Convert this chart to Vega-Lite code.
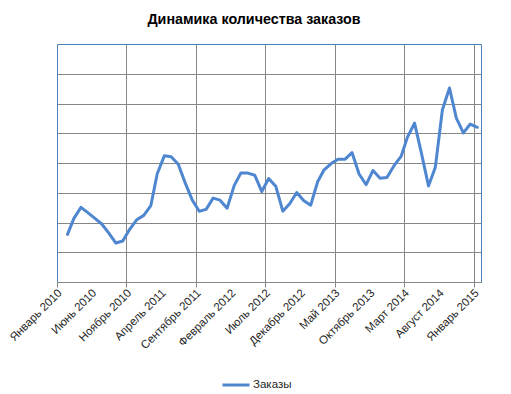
{
  "$schema": "https://vega.github.io/schema/vega-lite/v6.json",
  "autosize": "none",
  "width": 424,
  "height": 238,
  "padding": {"left": 57, "top": 44, "right": 30, "bottom": 112},
  "background": "white",
  "title": {
    "text": "Динамика количества заказов",
    "font": "Liberation Sans",
    "fontSize": 14.3,
    "fontWeight": "bold",
    "color": "#000000",
    "anchor": "middle",
    "dx": -15,
    "offset": 17
  },
  "config": {
    "view": {"stroke": "#4A7EBB", "strokeWidth": 1},
    "font": "Liberation Sans"
  },
  "data": {
    "values": [
      {"date": "2010-02-16", "orders": 1.60},
      {"date": "2010-03-16", "orders": 2.14},
      {"date": "2010-04-16", "orders": 2.51},
      {"date": "2010-05-16", "orders": 2.33},
      {"date": "2010-06-16", "orders": 2.14},
      {"date": "2010-07-16", "orders": 1.95},
      {"date": "2010-08-16", "orders": 1.64},
      {"date": "2010-09-16", "orders": 1.31},
      {"date": "2010-10-16", "orders": 1.38},
      {"date": "2010-11-16", "orders": 1.78},
      {"date": "2010-12-16", "orders": 2.09},
      {"date": "2011-01-16", "orders": 2.24},
      {"date": "2011-02-16", "orders": 2.57},
      {"date": "2011-03-16", "orders": 3.64},
      {"date": "2011-04-16", "orders": 4.24},
      {"date": "2011-05-16", "orders": 4.21},
      {"date": "2011-06-16", "orders": 3.96},
      {"date": "2011-07-16", "orders": 3.34},
      {"date": "2011-08-16", "orders": 2.76},
      {"date": "2011-09-16", "orders": 2.38},
      {"date": "2011-10-16", "orders": 2.44},
      {"date": "2011-11-16", "orders": 2.82},
      {"date": "2011-12-16", "orders": 2.75},
      {"date": "2012-01-16", "orders": 2.48},
      {"date": "2012-02-16", "orders": 3.24},
      {"date": "2012-03-16", "orders": 3.66},
      {"date": "2012-04-16", "orders": 3.66},
      {"date": "2012-05-16", "orders": 3.59},
      {"date": "2012-06-16", "orders": 3.04},
      {"date": "2012-07-16", "orders": 3.48},
      {"date": "2012-08-16", "orders": 3.22},
      {"date": "2012-09-16", "orders": 2.38},
      {"date": "2012-10-16", "orders": 2.63},
      {"date": "2012-11-16", "orders": 3.01},
      {"date": "2012-12-16", "orders": 2.74},
      {"date": "2013-01-16", "orders": 2.58},
      {"date": "2013-02-16", "orders": 3.38},
      {"date": "2013-03-16", "orders": 3.77},
      {"date": "2013-04-16", "orders": 3.98},
      {"date": "2013-05-16", "orders": 4.13},
      {"date": "2013-06-16", "orders": 4.13},
      {"date": "2013-07-16", "orders": 4.35},
      {"date": "2013-08-16", "orders": 3.63},
      {"date": "2013-09-16", "orders": 3.27},
      {"date": "2013-10-16", "orders": 3.75},
      {"date": "2013-11-16", "orders": 3.49},
      {"date": "2013-12-16", "orders": 3.51},
      {"date": "2014-01-16", "orders": 3.91},
      {"date": "2014-02-16", "orders": 4.22},
      {"date": "2014-03-16", "orders": 4.87},
      {"date": "2014-04-16", "orders": 5.34},
      {"date": "2014-05-16", "orders": 4.33},
      {"date": "2014-06-16", "orders": 3.23},
      {"date": "2014-07-16", "orders": 3.86},
      {"date": "2014-08-16", "orders": 5.79},
      {"date": "2014-09-16", "orders": 6.52},
      {"date": "2014-10-16", "orders": 5.51},
      {"date": "2014-11-16", "orders": 5.01},
      {"date": "2014-12-16", "orders": 5.31},
      {"date": "2015-01-16", "orders": 5.20}
    ]
  },
  "mark": {"type": "line", "strokeWidth": 3, "strokeJoin": "round", "strokeCap": "round"},
  "encoding": {
    "x": {
      "field": "date",
      "type": "temporal",
      "title": null,
      "scale": {
        "type": "utc",
        "domain": [
          {"year": 2010, "month": 1, "date": 1, "utc": true},
          {"year": 2015, "month": 2, "date": 1, "utc": true}
        ],
        "nice": false
      },
      "axis": {
        "values": [
          {"year": 2010, "month": 1, "date": 1, "utc": true},
          {"year": 2010, "month": 6, "date": 1, "utc": true},
          {"year": 2010, "month": 11, "date": 1, "utc": true},
          {"year": 2011, "month": 4, "date": 1, "utc": true},
          {"year": 2011, "month": 9, "date": 1, "utc": true},
          {"year": 2012, "month": 2, "date": 1, "utc": true},
          {"year": 2012, "month": 7, "date": 1, "utc": true},
          {"year": 2012, "month": 12, "date": 1, "utc": true},
          {"year": 2013, "month": 5, "date": 1, "utc": true},
          {"year": 2013, "month": 10, "date": 1, "utc": true},
          {"year": 2014, "month": 3, "date": 1, "utc": true},
          {"year": 2014, "month": 8, "date": 1, "utc": true},
          {"year": 2015, "month": 1, "date": 1, "utc": true}
        ],
        "labelExpr": "['Январь','Февраль','Март','Апрель','Май','Июнь','Июль','Август','Сентябрь','Октябрь','Ноябрь','Декабрь'][utcmonth(datum.value)] + ' ' + utcyear(datum.value)",
        "labelAngle": -45,
        "labelAlign": "right",
        "labelBaseline": "middle",
        "labelOffset": 3,
        "labelPadding": 4,
        "labelFontSize": 11.5,
        "labelColor": "#262626",
        "labelFont": "Liberation Sans",
        "labelOverlap": false,
        "labelFlush": false,
        "labelBound": false,
        "domainColor": "#868686",
        "domainWidth": 1,
        "grid": true,
        "gridColor": "#868686",
        "gridWidth": 1,
        "gridOpacity": {"condition": {"test": "((utcyear(datum.value)-2010)*12 + utcmonth(datum.value)) % 10 == 0 && ((utcyear(datum.value)-2010)*12 + utcmonth(datum.value)) > 0", "value": 1}, "value": 0},
        "ticks": true,
        "tickSize": 5,
        "tickColor": "#868686",
        "tickOpacity": {"condition": {"test": "((utcyear(datum.value)-2010)*12 + utcmonth(datum.value)) % 10 == 0", "value": 1}, "value": 0}
      }
    },
    "y": {
      "field": "orders",
      "type": "quantitative",
      "title": null,
      "scale": {"domain": [0, 8], "nice": false, "zero": true},
      "axis": {
        "values": [1, 2, 3, 4, 5, 6, 7],
        "labels": false,
        "ticks": false,
        "domain": false,
        "grid": true,
        "gridColor": "#868686",
        "gridWidth": 1
      }
    },
    "color": {
      "datum": "Заказы",
      "type": "nominal",
      "scale": {"range": ["#4F86D0"]},
      "legend": {
        "title": null,
        "orient": "none",
        "legendX": 164,
        "legendY": 326,
        "padding": 0,
        "symbolType": "stroke",
        "symbolSize": 729,
        "symbolStrokeWidth": 3,
        "labelFontSize": 11.5,
        "labelFont": "Liberation Sans",
        "labelColor": "#262626",
        "labelOffset": 2
      }
    }
  }
}
